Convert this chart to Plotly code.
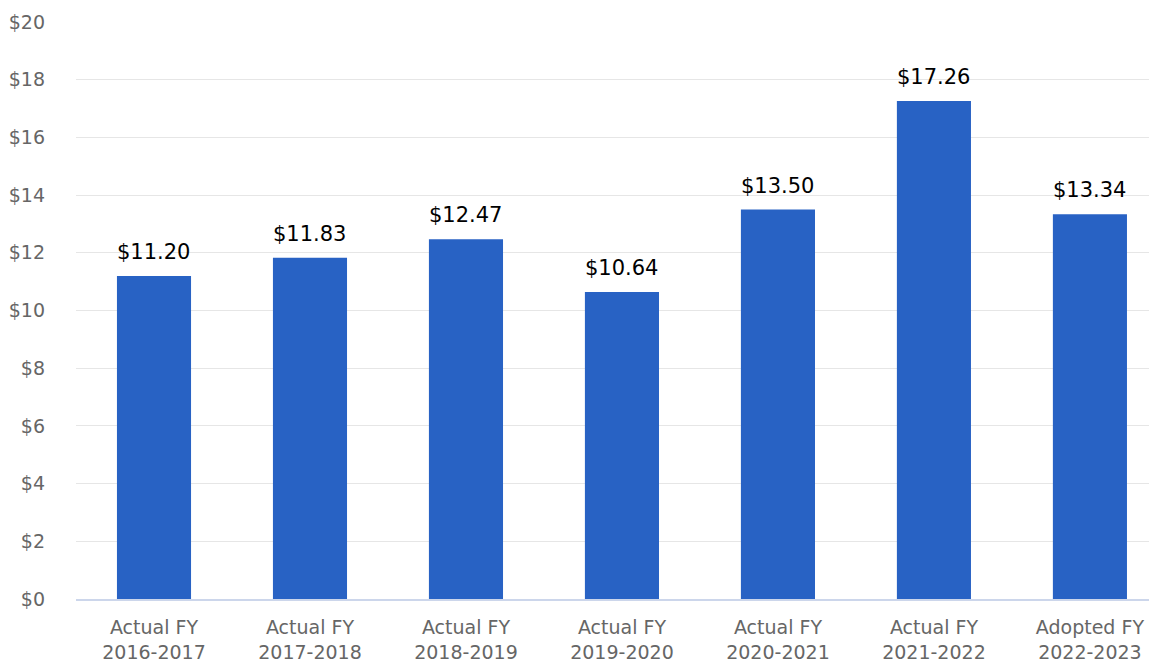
import plotly.graph_objects as go

categories = [
    "Actual FY<br>2016-2017",
    "Actual FY<br>2017-2018",
    "Actual FY<br>2018-2019",
    "Actual FY<br>2019-2020",
    "Actual FY<br>2020-2021",
    "Actual FY<br>2021-2022",
    "Adopted FY<br>2022-2023",
]
values = [11.20, 11.83, 12.47, 10.64, 13.50, 17.26, 13.34]
y_ticks = [0, 2, 4, 6, 8, 10, 12, 14, 16, 18, 20]
y_tick_labels = ["$" + str(t) for t in y_ticks]

fig = go.Figure()

fig.add_trace(
    go.Bar(
        x=categories,
        y=values,
        marker_color="#2862C4",
        marker_line_width=0,
        width=0.475,
        hoverinfo="skip",
    )
)

for cat, val in zip(categories, values):
    fig.add_annotation(
        x=cat,
        y=val,
        text="$%.2f" % val,
        showarrow=False,
        yanchor="bottom",
        yshift=10,
        font=dict(family="DejaVu Sans", size=21, color="#000000"),
    )

# page body adds an 8px margin, so the figure is a little smaller than the window
fig.update_layout(
    width=1149,
    height=654,
    margin=dict(l=68, r=0, t=14, b=63, autoexpand=False),
    paper_bgcolor="white",
    plot_bgcolor="white",
    showlegend=False,
    font=dict(family="DejaVu Sans", size=19, color="#666666"),
    xaxis=dict(
        type="category",
        range=[-0.5, 6.43],
        automargin=False,
        showgrid=False,
        showline=True,
        linecolor="#ccd6eb",
        linewidth=2,
        ticks="",
        ticklabelstandoff=10,
        tickfont=dict(family="DejaVu Sans", size=19, color="#666666"),
    ),
    yaxis=dict(
        range=[0, 20],
        automargin=False,
        tickvals=y_ticks,
        ticktext=y_tick_labels,
        showgrid=True,
        gridcolor="#e6e6e6",
        gridwidth=1,
        zeroline=False,
        ticks="",
        ticklabelstandoff=30,
        tickfont=dict(family="DejaVu Sans", size=19, color="#666666"),
    ),
)

fig.write_html("out.html")
